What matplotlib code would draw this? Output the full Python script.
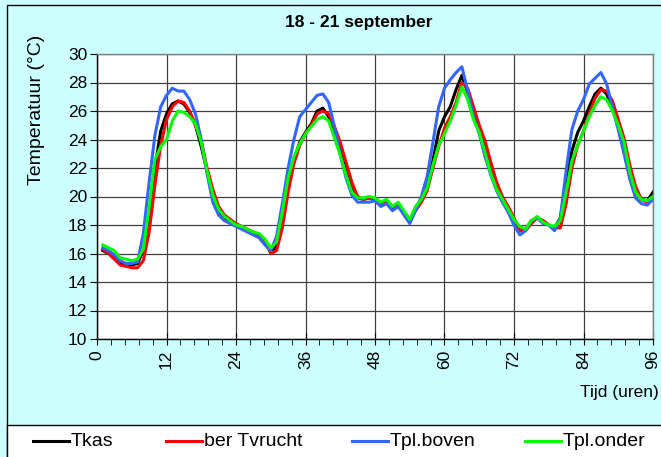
import matplotlib
matplotlib.use("Agg")
import matplotlib.pyplot as plt
from matplotlib.patches import Rectangle
from matplotlib.lines import Line2D
from matplotlib.ticker import MultipleLocator

hours = list(range(1, 97))
tkas = [16.2, 16.0, 15.7, 15.3, 15.2, 15.2, 15.3, 16.2, 18.8, 22.0, 24.6, 25.8, 26.5, 26.7, 26.5, 25.9,
        25.0, 23.5, 21.8, 20.0, 19.0, 18.5, 18.3, 18.0, 17.8, 17.6, 17.5, 17.3, 16.8, 16.1, 16.5, 18.6,
        21.0, 22.6, 23.8, 24.5, 25.1, 26.0, 26.2, 25.6, 24.5, 23.5, 22.2, 20.8, 19.9, 19.8, 19.9, 19.8,
        19.5, 19.7, 19.2, 19.5, 18.9, 18.3, 19.2, 19.8, 20.8, 22.5, 24.6, 25.6, 26.3, 27.5, 28.5, 27.3,
        26.0, 24.7, 23.5, 22.0, 20.8, 19.9, 19.2, 18.4, 17.6, 17.7, 18.3, 18.5, 18.3, 18.0, 17.8, 18.5,
        21.0, 23.2, 24.5, 25.3, 26.3, 27.2, 27.6, 27.2, 26.2, 25.0, 23.5, 21.8, 20.5, 19.8, 19.7, 20.3]
tvrucht = [16.3, 16.0, 15.6, 15.2, 15.1, 15.0, 15.0, 15.5, 17.5, 20.8, 23.6, 25.4, 26.3, 26.7, 26.6, 26.0,
           25.0, 23.9, 22.0, 20.5, 19.3, 18.7, 18.4, 18.1, 17.9, 17.7, 17.5, 17.3, 16.9, 16.0, 16.2, 17.8,
           20.3, 22.3, 23.6, 24.4, 25.0, 25.8, 26.0, 25.8, 24.9, 23.8, 22.4, 21.0, 20.0, 19.8, 19.9, 19.8,
           19.5, 19.7, 19.3, 19.5, 18.9, 18.4, 19.0, 19.6, 20.4, 22.0, 23.5, 24.8, 25.6, 26.6, 28.0, 27.6,
           26.3, 25.0, 23.9, 22.4, 21.0, 20.0, 19.3, 18.5, 17.6, 17.6, 18.1, 18.5, 18.3, 18.0, 17.8, 17.8,
           19.5, 22.0, 23.6, 24.6, 25.8, 26.9, 27.5, 27.4, 26.7, 25.4, 24.1, 22.2, 20.7, 19.8, 19.6, 20.0]
tpl_boven = [16.4, 16.2, 15.9, 15.5, 15.3, 15.3, 15.4, 17.4, 21.0, 24.3, 26.3, 27.1, 27.6, 27.4, 27.4, 26.8,
             25.8, 24.0, 21.6, 19.6, 18.7, 18.3, 18.1, 17.9, 17.7, 17.5, 17.3, 17.1, 16.6, 16.2, 17.2, 19.5,
             22.0, 24.0, 25.6, 26.1, 26.6, 27.1, 27.2, 26.6, 24.9, 22.9, 21.3, 20.1, 19.6, 19.6, 19.6, 19.7,
             19.3, 19.5, 19.0, 19.3, 18.7, 18.1, 19.0, 20.0, 21.4, 23.8, 26.3, 27.6, 28.2, 28.7, 29.1, 27.4,
             25.6, 24.4, 22.8, 21.5, 20.4, 19.6, 18.9, 18.0, 17.3, 17.6, 18.3, 18.5, 18.1, 18.0, 17.6, 18.5,
             21.8, 24.7, 26.0, 26.8, 27.9, 28.3, 28.7, 27.9, 26.2, 24.7, 23.0, 21.2, 19.9, 19.5, 19.4, 19.8]
tpl_onder = [16.6, 16.4, 16.2, 15.7, 15.6, 15.5, 15.6, 16.3, 19.2, 22.6, 23.5, 24.0, 25.3, 26.0, 25.9, 25.6,
             25.1, 23.8, 21.8, 20.1, 19.1, 18.6, 18.3, 18.0, 17.9, 17.7, 17.5, 17.4, 17.0, 16.4, 16.8, 18.9,
             21.3, 22.8, 23.7, 24.4, 24.9, 25.4, 25.6, 25.3, 24.1, 22.9, 21.5, 20.3, 19.9, 19.9, 20.0, 19.9,
             19.6, 19.8, 19.3, 19.6, 19.0, 18.4, 19.3, 19.8, 20.6, 22.2, 23.6, 24.4, 25.3, 26.4, 27.7, 26.8,
             25.4, 24.5, 23.1, 21.6, 20.5, 19.8, 19.1, 18.4, 17.9, 17.7, 18.3, 18.6, 18.2, 18.0, 17.9, 18.3,
             20.3, 22.5, 23.6, 24.6, 25.6, 26.4, 27.0, 26.8, 26.0, 25.0, 23.8, 21.7, 20.3, 19.8, 19.7, 20.0]

series_names = ["Tkas", "ber Tvrucht", "Tpl.boven", "Tpl.onder"]
series_colors = ["#000000", "#FF0000", "#3366FF", "#00FF00"]
x_ticks = list(range(0, 97, 12))
y_ticks = list(range(10, 31, 2))

plt.rcParams['font.family'] = ['Liberation Sans', 'DejaVu Sans']
FS = 12.5
FS_BIG = 14

W, H = 661, 457
fig = plt.figure(figsize=(W / 100, H / 100), dpi=100)
fig.patch.set_facecolor("#CCFFFF")

# outer frame
fig.add_artist(Rectangle((7 / W, -0.1), 1.2, 1 - 5 / H + 0.1, transform=fig.transFigure,
                         fill=False, edgecolor="black", lw=1.0))
# legend box
fig.add_artist(Rectangle((7 / W, -0.1), 1.2, (H - 425) / H + 0.1, transform=fig.transFigure,
                         facecolor="white", edgecolor="black", lw=1.0))

ax = fig.add_axes([97 / W, 1 - 339 / H, (653 - 97) / W, (339 - 54) / H])
ax.set_facecolor("white")
for vals, c in zip([tkas, tvrucht, tpl_boven, tpl_onder], series_colors):
    ax.plot(hours, vals, color=c, lw=2.2, solid_joinstyle="round")

ax.set_xlim(0, 96)
ax.set_ylim(10, 30)
ax.set_xticks(x_ticks)
ax.set_yticks(y_ticks)
ax.xaxis.set_minor_locator(MultipleLocator(2.4))
ax.set_xticklabels([str(t) for t in x_ticks], rotation=90, fontsize=FS)
ax.set_yticklabels([str(t) for t in y_ticks], fontsize=FS)
ax.grid(True, which="major", color="#404040", lw=0.9)
ax.set_axisbelow(True)
for s in ax.spines.values():
    s.set_color("#808080")
    s.set_linewidth(1.0)
ax.spines["left"].set_color("black")
ax.spines["bottom"].set_color("black")
ax.tick_params(axis="y", length=5, color="black", pad=2)
ax.tick_params(axis="x", which="major", direction="inout", length=8, color="black", pad=4)
ax.tick_params(axis="x", which="minor", direction="out", length=4, color="black")

fig.text(359 / W, 1 - 22 / H, "18 - 21 september", ha="center", va="center",
         fontsize=FS, fontweight="bold")
fig.text(37 / W, 1 - 110 / H, "Temperatuur (°C)", rotation=90, ha="center", va="center",
         fontsize=FS_BIG)
fig.text(659 / W, 1 - 393 / H, "Tijd (uren)", ha="right", va="center", fontsize=FS)

# legend entries
legend_x = [33, 166, 352, 525]
for name, c, lx in zip(series_names, series_colors, legend_x):
    y = 1 - 441 / H
    fig.add_artist(Line2D([lx / W, (lx + 36) / W], [y, y], color=c, lw=2.2,
                          transform=fig.transFigure))
    fig.text((lx + 38) / W, y, name, ha="left", va="center", fontsize=FS_BIG)

fig.savefig("out.png", dpi=100, facecolor=fig.get_facecolor())
